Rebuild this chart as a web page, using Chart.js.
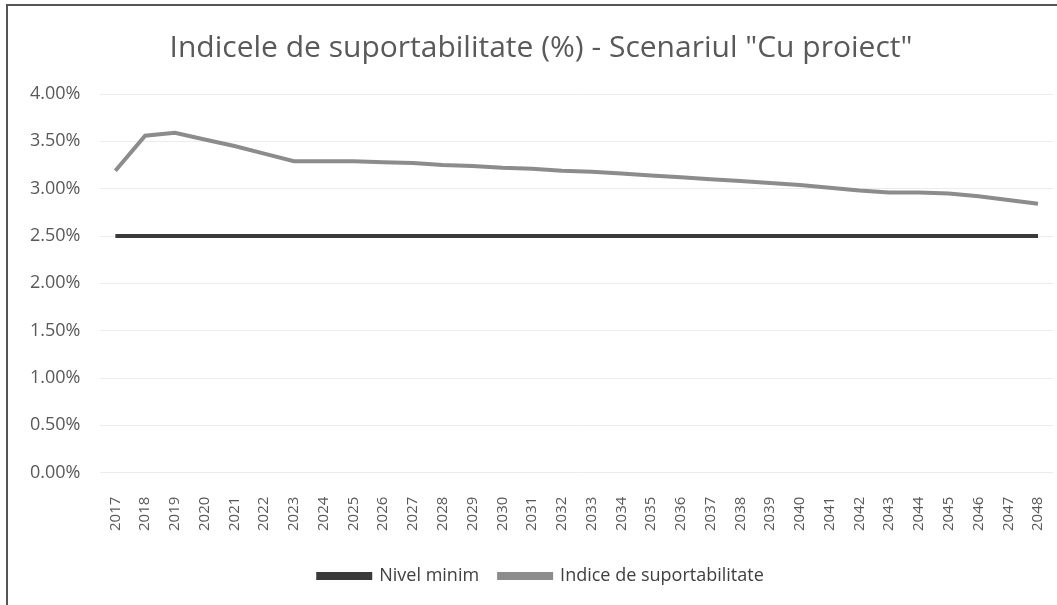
<!DOCTYPE html>
<html>
<head>
<meta charset="utf-8">
<script src="https://cdn.jsdelivr.net/npm/chart.js@4"></script>
<style>
  html, body { margin: 0; padding: 0; background: #fff; overflow: hidden; }
  #frame {
    position: absolute; left: 6px; top: 4px; width: 1055px; height: 603px;
    border-left: 2px solid #555; border-top: 2px solid #555; box-sizing: border-box;
  }
  #wrap { position: absolute; left: 8px; top: 6px; width: 1064px; height: 599px; }
</style>
</head>
<body>
<div id="frame"></div>
<div id="wrap"><canvas id="myChart"></canvas></div>
<script>
var years = [];
for (var y = 2017; y <= 2048; y++) years.push(String(y));

var nivelMinim = [2.5, 2.5, 2.5, 2.5, 2.5, 2.5, 2.5, 2.5, 2.5, 2.5, 2.5, 2.5, 2.5, 2.5, 2.5, 2.5,
                  2.5, 2.5, 2.5, 2.5, 2.5, 2.5, 2.5, 2.5, 2.5, 2.5, 2.5, 2.5, 2.5, 2.5, 2.5, 2.5];

var indice = [3.19, 3.56, 3.59, 3.52, 3.45, 3.37, 3.29, 3.29, 3.29, 3.28, 3.27, 3.25, 3.24, 3.22, 3.21, 3.19,
              3.18, 3.16, 3.14, 3.12, 3.10, 3.08, 3.06, 3.04, 3.01, 2.98, 2.96, 2.96, 2.95, 2.92, 2.88, 2.84];

var yTicks = [0, 0.5, 1, 1.5, 2, 2.5, 3, 3.5, 4];

var data = {
  labels: years,
  datasets: [
    {
      label: "Nivel minim",
      backgroundColor: "#3a3a3a",
      borderColor: "#3a3a3a",
      borderWidth: 4,
      pointRadius: 0,
      data: nivelMinim
    },
    {
      label: "Indice de suportabilitate",
      backgroundColor: "#8c8c8c",
      borderColor: "#8c8c8c",
      borderWidth: 4,
      pointRadius: 0,
      data: indice
    }
  ]
};

var config = {
  type: "line",
  data: data,
  options: {
    responsive: true,
    maintainAspectRatio: false,
    animation: false,
    layout: { padding: { left: 2, right: 0, top: 24, bottom: 10 } },
    plugins: {
      title: {
        display: true,
        text: 'Indicele de suportabilitate (%) - Scenariul "Cu proiect"',
        color: "#595959",
        font: { family: "Open Sans", size: 30, weight: "normal" },
        padding: { top: 0, bottom: 28 }
      },
      legend: {
        position: "bottom",
        labels: {
          color: "#404040",
          font: { family: "Open Sans", size: 18 },
          boxWidth: 52,
          boxHeight: 4,
          padding: 20
        }
      },
      tooltip: { enabled: false }
    },
    scales: {
      x: {
        offset: true,
        grid: { display: false },
        border: { display: false },
        ticks: {
          color: "#595959",
          font: { family: "Open Sans", size: 15 },
          padding: 16,
          maxRotation: 90,
          minRotation: 90,
          autoSkip: false
        }
      },
      y: {
        min: 0,
        max: 4,
        afterBuildTicks: function (axis) {
          axis.ticks = yTicks.map(function (v) { return { value: v }; });
        },
        grid: { color: "#ececec", drawTicks: false },
        border: { display: false },
        ticks: {
          color: "#595959",
          font: { family: "Open Sans", size: 18 },
          padding: 20,
          callback: function (v) { return v.toFixed(2) + "%"; }
        }
      }
    }
  }
};

var myChart = new Chart(document.getElementById("myChart"), config);
</script>
</body>
</html>
